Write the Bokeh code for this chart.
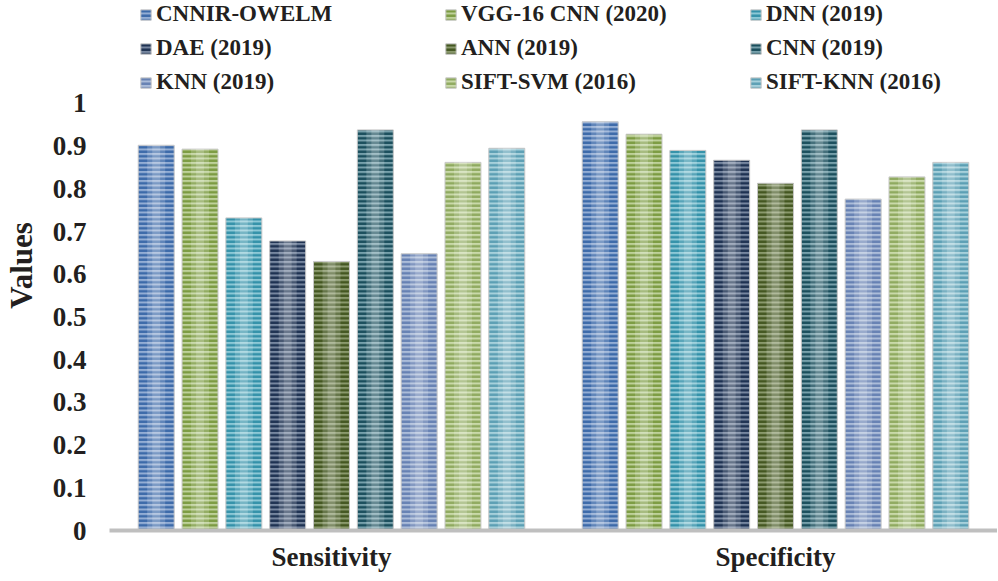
from bokeh.plotting import figure
from bokeh.models import FactorRange, Legend, LegendItem, FixedTicker, NumeralTickFormatter, ColumnDataSource
from bokeh.transform import dodge
from bokeh.embed import file_html
from bokeh.resources import INLINE

# ---- data ----
metrics = ["Sensitivity", "Specificity"]
methods = ["CNNIR-OWELM", "VGG-16 CNN (2020)", "DNN (2019)",
           "DAE (2019)", "ANN (2019)", "CNN (2019)",
           "KNN (2019)", "SIFT-SVM (2016)", "SIFT-KNN (2016)"]
sensitivity = [0.902, 0.893, 0.732, 0.678, 0.630, 0.938, 0.648, 0.862, 0.895]
specificity = [0.957, 0.928, 0.890, 0.867, 0.813, 0.938, 0.776, 0.828, 0.862]
y_ticks = [0, 0.1, 0.2, 0.3, 0.4, 0.5, 0.6, 0.7, 0.8, 0.9, 1]

# ---- styles ----
stripe_colors = ["#3A68A8", "#7A9A40", "#3290A8", "#1C3050", "#42551F",
                 "#184C5A", "#6580B2", "#8EA95E", "#5A9EB3"]
fill_colors = ["#93ADD4", "#BED19A", "#8CC8D6", "#76869F", "#8A996C",
               "#76A0AB", "#ABBCD9", "#C9D9A9", "#A6D0DB"]
FONT = "Liberation Serif"
TXT = "#231F20"

FRAME_W, FRAME_H = 888, 530
p = figure(frame_width=FRAME_W, frame_height=FRAME_H, x_range=FactorRange(*metrics),
           y_range=(0, 1.241), output_backend="svg", toolbar_location=None,
           min_border_left=0, min_border_right=0, min_border_top=0,
           min_border_bottom=0)
p.outline_line_color = None
p.xgrid.grid_line_color = None
p.ygrid.grid_line_color = None

data = {"metric": metrics}
for i, m in enumerate(methods):
    data["v%d" % i] = [sensitivity[i], specificity[i]]
src = ColumnDataSource(data)

pitch = 0.0987
bw = 0.081
renderers = []
for i, m in enumerate(methods):
    off = (i - 4) * pitch
    r = p.vbar(x=dodge("metric", off, range=p.x_range), top="v%d" % i, width=bw,
               source=src, fill_color=fill_colors[i], line_color="#C8C8C8", line_width=1,
               hatch_pattern="horizontal_line", hatch_color=stripe_colors[i],
               hatch_scale=4.5, hatch_weight=2.4)
    p.vbar(x=dodge("metric", off, range=p.x_range), top="v%d" % i, width=bw * 0.5,
           source=src, fill_color="white", fill_alpha=0.18, line_color=None)
    p.vbar(x=dodge("metric", off, range=p.x_range), top="v%d" % i, width=bw * 0.22,
           source=src, fill_color="white", fill_alpha=0.18, line_color=None)
    renderers.append(r)

# legends: three rows of three
row_centers = [14, 48, 82]
item_h = 26
for row in range(3):
    items = [LegendItem(label=methods[row * 3 + c], renderers=[renderers[row * 3 + c]])
             for c in range(3)]
    leg = Legend(items=items, orientation="horizontal",
                 location=(30, FRAME_H - row_centers[row] - item_h / 2),
                 padding=0, margin=0, spacing=0, label_standoff=4,
                 glyph_width=13, glyph_height=13, label_width=288, label_height=item_h,
                 background_fill_alpha=0, border_line_alpha=0,
                 label_text_font=FONT, label_text_font_style="bold",
                 label_text_font_size="23px", label_text_color=TXT)
    p.add_layout(leg)

# axes
p.yaxis.ticker = FixedTicker(ticks=y_ticks)
p.yaxis.formatter = NumeralTickFormatter(format="0.[0]")
p.yaxis.axis_line_color = None
p.yaxis.major_tick_line_color = None
p.yaxis.minor_tick_line_color = None
p.yaxis.major_tick_out = 0
p.yaxis.major_label_text_font = FONT
p.yaxis.major_label_text_font_style = "bold"
p.yaxis.major_label_text_font_size = "27px"
p.yaxis.major_label_text_color = TXT
p.yaxis.major_label_standoff = 23
p.yaxis.axis_label = "Values"
p.yaxis.axis_label_text_font = FONT
p.yaxis.axis_label_text_font_style = "bold"
p.yaxis.axis_label_text_font_size = "31px"
p.yaxis.axis_label_text_color = TXT
p.yaxis.axis_label_standoff = 11

p.xaxis.axis_line_color = "#BFBFBF"
p.xaxis.axis_line_width = 4
p.xaxis.major_tick_line_color = None
p.xaxis.minor_tick_line_color = None
p.xaxis.major_tick_out = 0
p.xaxis.major_label_text_font = FONT
p.xaxis.major_label_text_font_style = "bold"
p.xaxis.major_label_text_font_size = "27px"
p.xaxis.major_label_text_color = TXT
p.xaxis.major_label_standoff = 11

open("out.html", "w").write(file_html(p, INLINE))
